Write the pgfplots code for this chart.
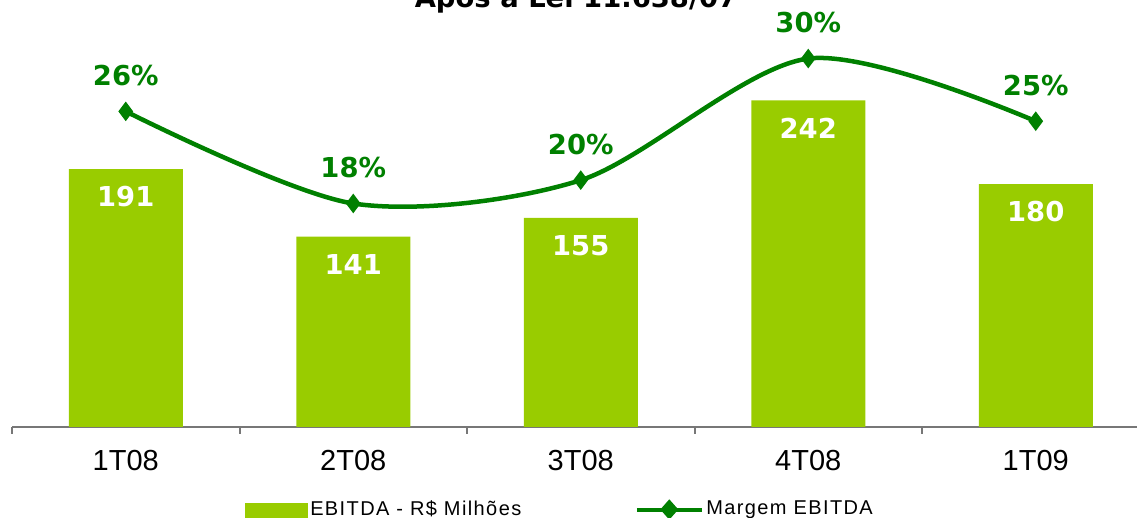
\documentclass[border=0pt]{standalone}
\usepackage{fontspec}
\setmainfont{DejaVu Sans}
\newfontfamily\legfont{Liberation Sans}[LetterSpace=7]
\newfontfamily\tickfont{Liberation Sans}
\usepackage{pgfplots}
\pgfplotsset{compat=1.18}
\definecolor{barg}{HTML}{99CC00}
\definecolor{lineg}{HTML}{008000}
\definecolor{axgray}{HTML}{777777}
\begin{document}
\begin{tikzpicture}
\begin{axis}[
  at={(6pt,-213.5pt)}, anchor=south west,
  scale only axis, width=568.75pt, height=213.5pt,
  xmin=-0.5, xmax=4.5, ymin=0, ymax=316.3,
  /pgf/number format/assume math mode=true,
  axis y line=none, axis x line*=bottom,
  axis line style={draw=axgray, line width=1pt},
  xtick={0,1,2,3,4}, xticklabels={1T08,2T08,3T08,4T08,1T09},
  major tick length=0pt,
  minor xtick={-0.5,0.5,1.5,2.5,3.5,4.5}, minor tick length=3.5pt,
  tick align=outside,
  every tick/.style={draw=axgray, line width=1pt},
  x tick label style={font=\tickfont\fontsize{14.5}{17}\selectfont, anchor=north, inner sep=0pt, yshift=-11.5pt},
  ybar, bar width=57pt,
  nodes near coords, nodes near coords align={below},
  every node near coord/.append style={font=\bfseries\fontsize{13.7}{16}\selectfont, text=white, anchor=north, inner sep=0pt, yshift=-8.5pt},
  clip=false,
]
\addplot[fill=barg, draw=none, bar shift=0pt] coordinates {(0,191) (1,141) (2,155) (3,242) (4,180)};
\end{axis}
\begin{axis}[
  at={(6pt,-213.5pt)}, anchor=south west,
  scale only axis, width=568.75pt, height=213.5pt,
  xmin=-0.5, xmax=4.5, ymin=0, ymax=34.77,
  /pgf/number format/assume math mode=true,
  hide axis, clip=false,
  title={Após a Lei 11.638/07},
  every axis title shift=0pt,
  title style={at={(0.5,1)}, anchor=base, inner sep=0pt, yshift=-3.5pt, xshift=-2.4pt, font=\bfseries\fontsize{13.7}{16}\selectfont},
  legend style={at={(0.2048,-0.1944)}, anchor=west, draw=none, fill=none, inner sep=0pt, outer sep=0pt,
    font=\legfont\fontsize{10}{12}\selectfont, legend columns=2,
    nodes={inner sep=1.25pt},
    /tikz/every even column/.append style={column sep=55.5pt}},
  legend cell align=left,
]
\addlegendimage{legend image code/.code={\fill[barg] (0pt,-6pt) rectangle (31pt,3pt);}}
\addplot[lineg, line width=2.25pt, smooth, tension=0.5, mark=diamond*, mark size=4.5pt,
  mark options={solid, line width=0.5pt},
  nodes near coords={\pgfmathprintnumber[fixed,precision=0]{\pgfplotspointmeta}\%},
  point meta=y,
  every node near coord/.append style={font=\bfseries\fontsize{13.7}{16}\selectfont, text=lineg, anchor=base, inner sep=0pt, yshift=13pt},
  legend image code/.code={\draw[lineg, line width=2pt] (0pt,0pt) -- (32.5pt,0pt); \fill[lineg] (16.25pt,3.4pt) -- (19.25pt,0pt) -- (16.25pt,-3.4pt) -- (13.25pt,0pt) -- cycle;}
] coordinates {(0,25.7) (1,18.2) (2,20.1) (3,30.0) (4,24.9)};
\legend{EBITDA - R\$ Milhões, Margem EBITDA}
\end{axis}
\pgfresetboundingbox
\path[use as bounding box] (0pt,0pt) rectangle (568.5pt,-259pt);
\end{tikzpicture}
\end{document}
